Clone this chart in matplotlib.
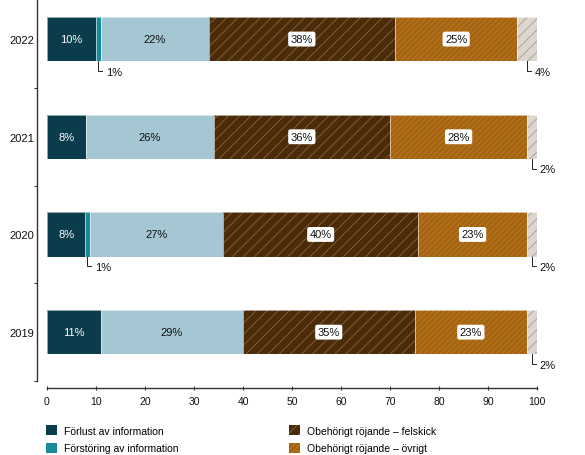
import matplotlib
matplotlib.use("Agg")
import matplotlib.pyplot as plt
from matplotlib.patches import Patch
import numpy as np

plt.rcParams['font.family'] = ['Liberation Sans', 'DejaVu Sans']
plt.rcParams['hatch.linewidth'] = 0.6

years = ["2022", "2021", "2020", "2019"]
series_names = ["Förlust av information", "Förstöring av information", "Övrigt",
                "Obehörigt röjande – felskick", "Obehörigt röjande – övrigt", "Annat"]
# values per series (for years 2022, 2021, 2020, 2019)
forlust = [10, 8, 7.8, 11]
forstoring = [1, 0, 0.9, 0]
ovrigt_info = [22, 26, 27.3, 29]
felskick = [38, 36, 39.7, 35]
rojande_ovrigt = [25, 28, 22.3, 23]
annat = [4, 2, 2, 2]
labels = [
    ["10%", "8%", "8%", "11%"],
    ["1%", "", "1%", ""],
    ["22%", "26%", "27%", "29%"],
    ["38%", "36%", "40%", "35%"],
    ["25%", "28%", "23%", "23%"],
    ["4%", "2%", "2%", "2%"],
]

data = [forlust, forstoring, ovrigt_info, felskick, rojande_ovrigt, annat]
faces = ["#0b3c4c", "#1b8a9a", "#a4c7d3", "#4a2b0a", "#a6640f", "#dcd6cf"]
hatches = [None, None, None, "///", "//////", "///"]
hcols = ["none", "none", "none", "#8f6438", "#b87b30", "#a39d96"]
label_style = ["white", "callout", "dark", "box", "box", "callout"]

fig = plt.figure(figsize=(5.85, 4.56), dpi=100)
ax = fig.add_axes([47/585, 1-382/456, 490/585, 382/456])

y = np.arange(len(years))
h = 0.455
left = np.zeros(len(years))
for k, vals in enumerate(data):
    vals = np.array(vals, dtype=float)
    ax.barh(y, vals, left=left, height=h, color=faces[k], hatch=hatches[k],
            edgecolor=hcols[k], linewidth=0)
    ax.barh(y, vals, left=left, height=h, fill=False, edgecolor="white", linewidth=0.4)
    for i, v in enumerate(vals):
        txt = labels[k][i]
        if not txt or v <= 0:
            continue
        cx = left[i] + v/2
        st = label_style[k]
        if st == "white":
            ax.text(cx, y[i], txt, ha="center", va="center", color="white", fontsize=8)
        elif st == "dark":
            ax.text(cx, y[i], txt, ha="center", va="center", color="#111111", fontsize=8)
        elif st == "box":
            ax.text(cx, y[i], txt, ha="center", va="center", color="#111111", fontsize=8,
                    bbox=dict(boxstyle="round,pad=0.22,rounding_size=0.2", fc="white", ec="none"))
        else:
            yb = y[i] + h/2
            ye = y[i] + 0.325
            ax.plot([cx, cx, cx + 0.8], [yb, ye, ye], color="#222222", lw=0.7,
                    solid_joinstyle="miter", clip_on=False)
            ax.text(cx + 1.5, ye + 0.01, txt, ha="left", va="center", color="#111111",
                    fontsize=8)
    left = left + vals

ax.set_xlim(0, 100)
ax.set_ylim(3.5, -0.41)
ax.set_yticks(y)
ax.set_yticklabels(years)
ax.set_yticks([0.5, 1.5, 2.5, 3.5], minor=True)
ax.tick_params(axis="y", which="major", length=0, pad=2, labelsize=8, colors="#111111")
ax.tick_params(axis="y", which="minor", length=2.5, width=0.8, color="#333333")
ax.set_xticks(np.arange(0, 101, 10))
ax.tick_params(axis="x", which="major", length=3, width=0.8, direction="inout",
               labelsize=7.5, colors="#111111", color="#333333", pad=4)
for s in ["top", "right"]:
    ax.spines[s].set_visible(False)
ax.spines["left"].set_position(("outward", 7))
ax.spines["bottom"].set_position(("outward", 5))
ax.spines["left"].set_color("#333333")
ax.spines["bottom"].set_color("#333333")
ax.spines["left"].set_linewidth(1.0)
ax.spines["bottom"].set_linewidth(1.0)

def handle(k):
    return Patch(facecolor=faces[k], hatch=hatches[k], edgecolor=hcols[k], linewidth=0)

leg_kw = dict(loc="upper left", frameon=False, fontsize=7.5, handlelength=1.1,
              handleheight=1.1, handletextpad=0.6, labelspacing=0.7, borderpad=0,
              borderaxespad=0)
fig.legend([handle(0), handle(1)], [series_names[0], series_names[1]],
           bbox_to_anchor=(46/585, 1-426/456), **leg_kw)
fig.legend([handle(3), handle(4)], [series_names[3], series_names[4]],
           bbox_to_anchor=(289/585, 1-426/456), **leg_kw)

fig.savefig("out.png", dpi=100)
